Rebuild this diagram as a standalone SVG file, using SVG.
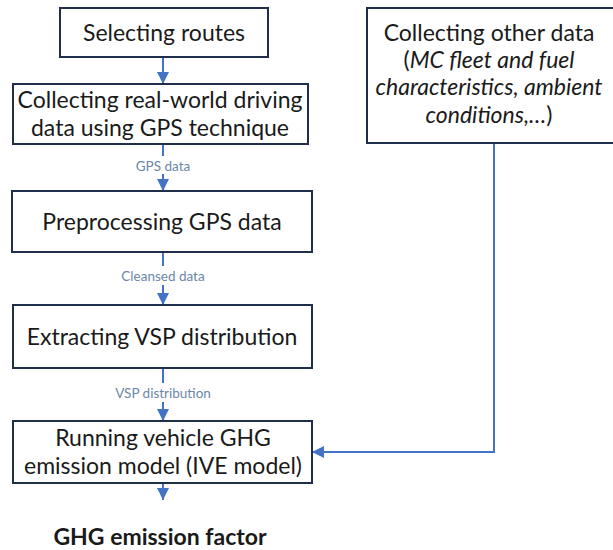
<svg xmlns="http://www.w3.org/2000/svg" width="613" height="550" viewBox="0 0 613 550">
  <defs>
    <marker id="arrow" viewBox="0 0 10 10" refX="10" refY="5" markerWidth="12" markerHeight="12" markerUnits="userSpaceOnUse" orient="auto">
      <path d="M0,0 L10,5 L0,10 z" fill="#4472c4"/>
    </marker>
    <style>
      .box { fill: #ffffff; stroke: #1f2f4a; stroke-width: 2; }
      .txt { font-family: Lato, "Open Sans", "Liberation Sans", sans-serif; font-size: 23px; fill: #1a1a1a; text-anchor: middle; }
      .it { font-style: italic; }
      .lbl { font-family: Lato, "Open Sans", "Liberation Sans", sans-serif; font-size: 13.5px; fill: #6a87a8; text-anchor: middle; }
      .edge { fill: none; stroke: #4472c4; stroke-width: 2; }
      .bold { font-weight: bold; }
    </style>
  </defs>
  <rect width="613" height="550" fill="#ffffff"/>

  <g id="connectors">
    <line class="edge" x1="163" y1="57" x2="163" y2="84" marker-end="url(#arrow)"/>
    <line class="edge" x1="163" y1="144" x2="163" y2="156"/>
    <line class="edge" x1="163" y1="174" x2="163" y2="191" marker-end="url(#arrow)"/>
    <line class="edge" x1="163" y1="252" x2="163" y2="266"/>
    <line class="edge" x1="163" y1="285" x2="163" y2="305" marker-end="url(#arrow)"/>
    <line class="edge" x1="163" y1="368" x2="163" y2="383"/>
    <line class="edge" x1="163" y1="402" x2="163" y2="421" marker-end="url(#arrow)"/>
    <line class="edge" x1="163" y1="483" x2="163" y2="500" marker-end="url(#arrow)"/>
    <polyline class="edge" points="494,143 494,452 312,452" marker-end="url(#arrow)"/>
    <text class="lbl" x="163" y="171">GPS data</text>
    <text class="lbl" x="163" y="281">Cleansed data</text>
    <text class="lbl" x="163" y="398">VSP distribution</text>
  </g>

  <g id="select-routes">
    <rect class="box" x="60" y="8" width="208" height="49"/>
    <text class="txt" x="164" y="41">Selecting routes</text>
  </g>

  <g id="collect-driving">
    <rect class="box" x="13" y="84" width="295" height="60"/>
    <text class="txt" x="160" y="108">Collecting real-world driving</text>
    <text class="txt" x="160" y="136">data using GPS technique</text>
  </g>

  <g id="preprocess">
    <rect class="box" x="12" y="191" width="300" height="61"/>
    <text class="txt" x="162" y="230">Preprocessing GPS data</text>
  </g>

  <g id="extract-vsp">
    <rect class="box" x="13" y="305" width="299" height="63"/>
    <text class="txt" x="162" y="345">Extracting VSP distribution</text>
  </g>

  <g id="run-model">
    <rect class="box" x="13" y="421" width="299" height="62"/>
    <text class="txt" x="163" y="446">Running vehicle GHG</text>
    <text class="txt" x="163" y="474">emission model (IVE model)</text>
  </g>

  <g id="other-data">
    <rect class="box" x="367" y="8" width="250" height="135"/>
    <text class="txt" x="489" y="41">Collecting other data</text>
    <text class="txt" x="489" y="68">(<tspan class="it">MC fleet and fuel</tspan></text>
    <text class="txt it" x="489" y="95">characteristics, ambient</text>
    <text class="txt" x="489" y="123"><tspan class="it">conditions,…</tspan>)</text>
  </g>

  <g id="result">
    <text class="txt bold" x="160" y="545">GHG emission factor</text>
  </g>
</svg>
